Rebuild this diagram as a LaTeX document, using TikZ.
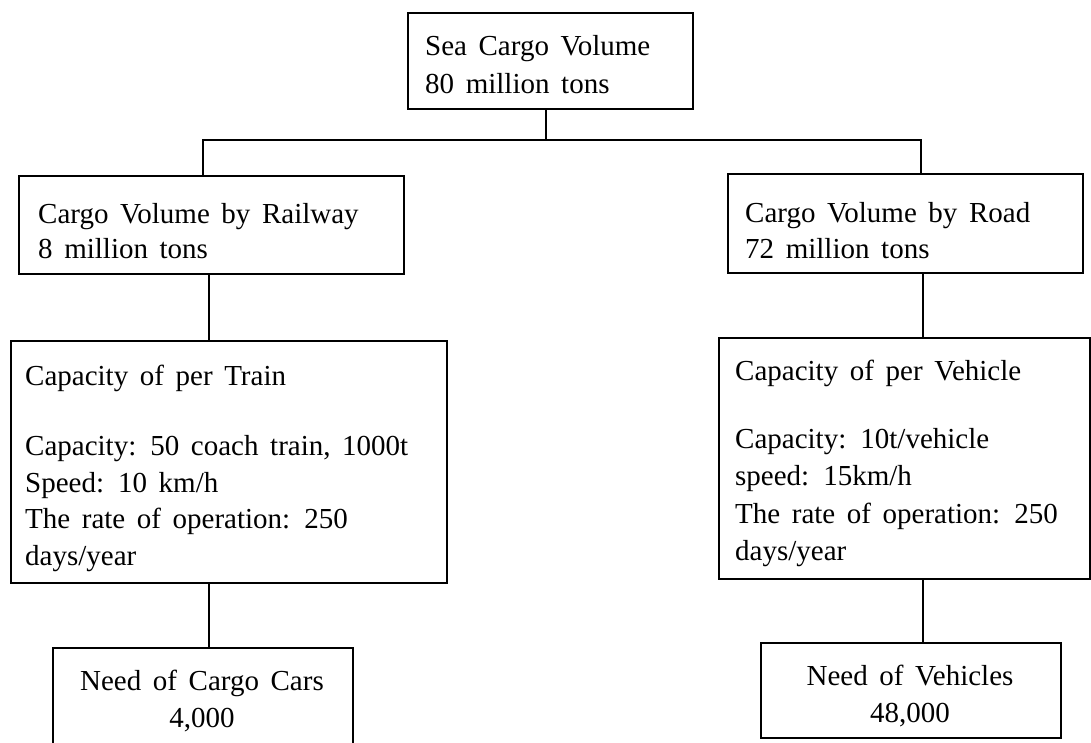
\documentclass[tikz,border=0pt]{standalone}
\usepackage{fontspec}
\setmainfont{Liberation Serif}
\newcommand\lblfont{\fontsize{29}{36}\selectfont\spaceskip=0.4em\relax}
\begin{document}
\begin{tikzpicture}[x=1pt,y=-1pt,
  tbox/.style={draw, line width=1.5pt, inner sep=0pt, anchor=north west},
  lbl/.style={anchor=base west, inner sep=0pt, font=\lblfont},
  clbl/.style={anchor=base, inner sep=0pt, font=\lblfont},
  link/.style={line width=1.5pt}]
\useasboundingbox (0,0) rectangle (1091,742);
\clip (0,0) rectangle (1091,742);

% boxes
\node[tbox, minimum width=285pt, minimum height=96pt]  (sea)   at (407,12)  {};
\node[tbox, minimum width=385pt, minimum height=98pt]  (rail)  at (18,175)  {};
\node[tbox, minimum width=355pt, minimum height=99pt]  (road)  at (727,173) {};
\node[tbox, minimum width=436pt, minimum height=242pt] (train) at (10,340)  {};
\node[tbox, minimum width=371pt, minimum height=241pt] (truck) at (718,337) {};
\node[tbox, minimum width=300pt, minimum height=120pt] (cars)  at (52,647)  {};
\node[tbox, minimum width=300pt, minimum height=95pt]  (vehs)  at (760,642) {};

% box texts
\node[lbl] (sea1)  at (425,55)  {Sea Cargo Volume};
\node[lbl] (sea2)  at (425,93)  {80 million tons};

\node[lbl] (rail1) at (38,223)  {Cargo Volume by Railway};
\node[lbl] (rail2) at (38,258)  {8 million tons};

\node[lbl] (road1) at (745,222) {Cargo Volume by Road};
\node[lbl] (road2) at (745,258) {72 million tons};

\node[lbl] (train1) at (25,385) {Capacity of per Train};
\node[lbl] (train2) at (25,455) {Capacity: 50 coach train, 1000t};
\node[lbl] (train3) at (25,492) {Speed: 10 km/h};
\node[lbl] (train4) at (25,528) {The rate of operation: 250};
\node[lbl] (train5) at (25,565) {days/year};

\node[lbl] (truck1) at (735,380) {Capacity of per Vehicle};
\node[lbl] (truck2) at (735,448) {Capacity: 10t/vehicle};
\node[lbl] (truck3) at (735,485) {speed: 15km/h};
\node[lbl] (truck4) at (735,523) {The rate of operation: 250};
\node[lbl] (truck5) at (735,560) {days/year};

\node[clbl] (cars1) at (202,690) {Need of Cargo Cars};
\node[clbl] (cars2) at (202,727) {4,000};

\node[clbl] (vehs1) at (910,685) {Need of Vehicles};
\node[clbl] (vehs2) at (910,722) {48,000};

% connectors
\coordinate (jL) at (203,140);
\coordinate (jR) at (921,140);
\coordinate (dL) at (209,0);
\coordinate (dR) at (923,0);
\draw[link] ([xshift=-4.5pt]sea.south) -- ([xshift=-4.5pt]sea.south |- jL);
\draw[link] (rail.north -| jL) -- (jL) -- (jR) -- (road.north -| jR);
\draw[link] (rail.south -| dL) -- (train.north -| dL);
\draw[link] (train.south -| dL) -- (cars.north -| dL);
\draw[link] (road.south -| dR) -- (truck.north -| dR);
\draw[link] (truck.south -| dR) -- (vehs.north -| dR);
\end{tikzpicture}
\end{document}
